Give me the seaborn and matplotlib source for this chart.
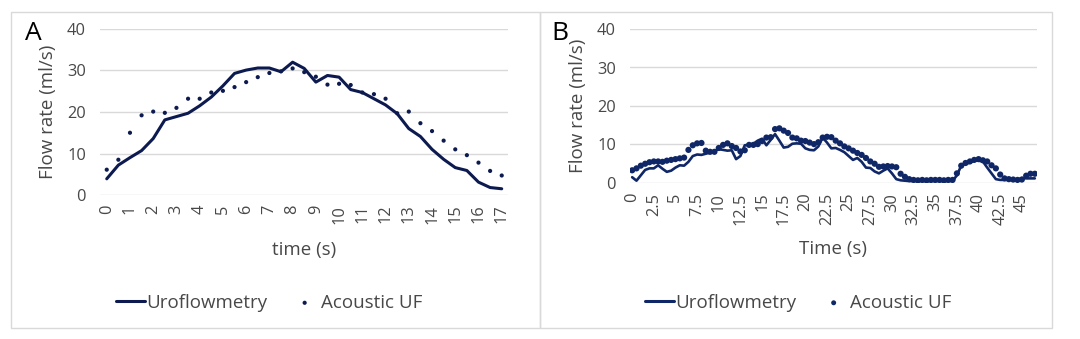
import numpy as np
import pandas as pd
import matplotlib
matplotlib.use("Agg")
import matplotlib.pyplot as plt
from matplotlib.patches import Rectangle
import seaborn as sns

# ---- Panel A: one voiding, 0.5 s resolution ----
time_a = np.arange(0, 17.01, 0.5)
uroflow_a = [3.9, 7.2, 9.0, 10.7, 13.6, 18.1, 18.9, 19.7, 21.5, 23.6,
             26.3, 29.3, 30.1, 30.6, 30.6, 29.7, 32.0, 30.5, 27.2, 28.8,
             28.4, 25.4, 24.7, 23.2, 21.7, 19.6, 16.0, 14.1, 11.0, 8.6,
             6.6, 5.9, 3.1, 1.8, 1.5]
acoustic_a = [6.1, 8.5, 15.0, 19.2, 20.1, 19.8, 21.0, 23.2, 23.2, 24.7,
              25.1, 26.0, 27.2, 28.4, 29.4, 29.8, 30.5, 29.6, 28.5, 26.6,
              26.8, 26.5, 24.7, 24.3, 23.2, 19.7, 20.1, 17.3, 15.4, 13.1,
              11.0, 9.6, 7.8, 5.8, 4.7]
ticks_a = list(range(0, 18))

# ---- Panel B: intermittent voiding, 0.5 s resolution ----
time_b = np.arange(0, 46.51, 0.5)
uroflow_b = [1.5, 0.6, 2.0, 3.4, 3.8, 3.8, 4.6, 3.7, 2.9, 3.2,
             4.0, 4.6, 4.5, 5.5, 7.0, 7.4, 7.3, 7.6, 7.9, 8.3,
             8.8, 8.6, 8.4, 8.5, 6.2, 7.0, 9.8, 9.9, 10.2, 11.0,
             11.5, 9.8, 11.2, 12.7, 11.0, 9.2, 9.4, 10.2, 10.3, 10.2,
             9.0, 8.6, 8.5, 9.5, 11.8, 10.5, 9.0, 9.1, 8.6, 8.0,
             7.0, 6.0, 6.5, 5.5, 4.0, 3.9, 3.0, 2.5, 3.2, 3.8,
             2.5, 1.0, 0.7, 0.6, 0.5, 0.5, 0.5, 0.5, 0.5, 0.5,
             0.5, 0.5, 0.5, 0.5, 0.5, 2.0, 4.5, 5.0, 5.3, 5.8,
             5.8, 5.6, 4.0, 2.5, 1.0, 0.8, 0.8, 0.8, 0.8, 0.8,
             1.3, 1.2, 1.2, 1.2]
acoustic_b = [3.3, 3.8, 4.5, 5.0, 5.4, 5.6, 5.6, 5.5, 5.8, 6.0,
              6.2, 6.4, 6.6, 8.6, 9.8, 10.3, 10.4, 8.4, 8.1, 8.1,
              9.1, 9.9, 10.3, 9.6, 9.1, 8.2, 8.5, 9.9, 9.9, 10.1,
              10.9, 11.8, 11.9, 14.0, 14.2, 13.6, 13.0, 11.8, 11.6, 11.0,
              10.9, 10.5, 10.1, 10.6, 11.8, 12.0, 11.9, 11.0, 10.3, 9.5,
              9.0, 8.4, 7.8, 7.3, 6.5, 5.6, 5.0, 4.2, 4.3, 4.4,
              4.3, 4.1, 2.4, 1.6, 1.0, 0.8, 0.7, 0.8, 0.7, 0.8,
              0.8, 0.8, 0.7, 0.8, 0.8, 2.5, 4.5, 5.2, 5.6, 6.0,
              6.2, 5.9, 5.6, 4.6, 3.8, 2.2, 1.2, 1.0, 0.9, 0.8,
              0.9, 1.9, 2.4, 2.4]
ticks_b = [0, 2.5, 5, 7.5, 10, 12.5, 15, 17.5, 20, 22.5, 25, 27.5, 30,
           32.5, 35, 37.5, 40, 42.5, 45]
y_ticks = [0, 10, 20, 30, 40]

series_names = ["Uroflowmetry", "Acoustic UF"]

sns.set_style("white")
plt.rcParams["font.family"] = ["Open Sans", "DejaVu Sans"]

W, H = 1080, 339
fig = plt.figure(figsize=(W / 100, H / 100), dpi=100)

GRID = "#d9d9d9"
TXT = "#484848"


def px_axes(x0, y0, x1, y1):
    return fig.add_axes([x0 / W, 1 - y1 / H, (x1 - x0) / W, (y1 - y0) / H])


# light frames around each panel
for (x0, x1) in [(11, 539.5), (539.5, 1052)]:
    fig.patches.append(Rectangle((x0 / W, 1 - 328 / H), (x1 - x0) / W,
                                 (328 - 11.5) / H, transform=fig.transFigure,
                                 fill=False, edgecolor=GRID, lw=1.0))

ax_a = px_axes(100, 29, 508, 195)
ax_b = px_axes(630, 29, 1037, 183)

color_a = "#0c1a4f"
color_b = "#102767"

sns.lineplot(x=time_a, y=uroflow_a, ax=ax_a, color=color_a, lw=2.2,
             label=series_names[0], zorder=3)
sns.scatterplot(x=time_a, y=acoustic_a, ax=ax_a, color=color_a, s=9,
                edgecolor="none", label=series_names[1], zorder=4)

sns.lineplot(x=time_b, y=uroflow_b, ax=ax_b, color=color_b, lw=1.9,
             label=series_names[0], zorder=3)
sns.scatterplot(x=time_b, y=acoustic_b, ax=ax_b, color=color_b, s=20,
                edgecolor="none", label=series_names[1], zorder=4)


def fmt(v):
    return f"{v:g}"


for ax, xt, xlim, xlabel, leg_x, ms, leg_lw in [
    (ax_a, ticks_a, (-0.29, 17.27), "time (s)", 269, 1.0, 2.2),
    (ax_b, ticks_b, (-0.25, 46.75), "Time (s)", 798, 0.8, 2.2),
]:
    ax.set_xlim(*xlim)
    ax.set_ylim(0, 40)
    ax.set_yticks(y_ticks)
    ax.set_xticks(xt)
    ax.set_xticklabels([fmt(v) for v in xt], rotation=90)
    ax.set_yticklabels([fmt(v) for v in y_ticks])
    ax.grid(axis="y", color=GRID, lw=1.0)
    ax.set_axisbelow(True)
    for s in ax.spines.values():
        s.set_visible(False)
    ax.tick_params(axis="both", length=0, labelsize=11.8, colors=TXT)
    ax.tick_params(axis="y", pad=10)
    ax.tick_params(axis="x", pad=7)
    ax.set_xlabel(xlabel, fontsize=13.5, color=TXT)
    ax.set_ylabel("Flow rate (ml/s)", fontsize=13.5, color=TXT)
    ax.xaxis.label.set_va("center")
    ax.yaxis.label.set_va("center")
    h, l = ax.get_legend_handles_labels()
    leg = ax.legend(h, l, loc="center",
                    bbox_to_anchor=(leg_x / W, 1 - 302.7 / H),
                    bbox_transform=fig.transFigure, ncol=2, frameon=False,
                    fontsize=13.5, handlelength=1.55, handletextpad=0.1,
                    columnspacing=1.2, labelcolor=TXT, markerscale=ms)
    leg.get_lines()[0].set_linewidth(leg_lw)

ax_a.xaxis.set_label_coords(0.5, (195 - 250) / 166)
ax_a.yaxis.set_label_coords((48 - 100) / 408, 0.5)
ax_b.xaxis.set_label_coords(0.499, (183 - 249) / 154)
ax_b.yaxis.set_label_coords((578 - 630) / 407, 0.5)

fig.text(33 / W, 1 - 33 / H, "A", fontsize=19, color="black",
         ha="center", va="center")
fig.text(560 / W, 1 - 34 / H, "B", fontsize=19, color="black",
         ha="center", va="center")

fig.savefig("out.png", dpi=100)
